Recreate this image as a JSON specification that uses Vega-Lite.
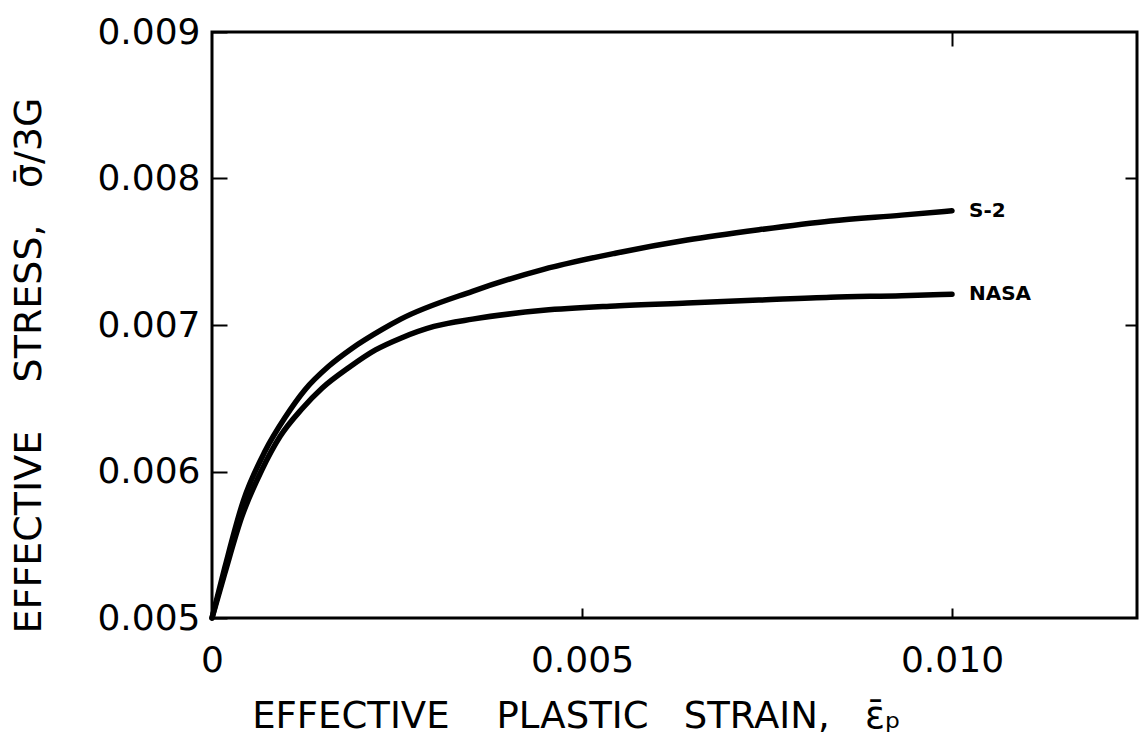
{
  "$schema": "https://vega.github.io/schema/vega-lite/v6.json",
  "width": 925,
  "height": 586,
  "autosize": {"type": "none"},
  "padding": {"left": 212, "top": 32, "right": 7, "bottom": 138},
  "background": "white",
  "config": {
    "view": {"stroke": "#000", "strokeWidth": 3},
    "font": "DejaVu Sans",
    "axis": {"grid": false, "domain": false, "tickColor": "#000", "tickWidth": 2, "labelColor": "#000", "titleColor": "#000", "labelFont": "DejaVu Sans", "titleFont": "DejaVu Sans", "titleFontWeight": "normal", "labelFlush": false, "labelOverlap": false}
  },
  "datasets": {
    "curves": [
      {"curve": "S-2", "strain": 0.0, "stress": 0.005},
      {"curve": "S-2", "strain": 0.000176, "stress": 0.00535},
      {"curve": "S-2", "strain": 0.000424, "stress": 0.0058},
      {"curve": "S-2", "strain": 0.000718, "stress": 0.00614},
      {"curve": "S-2", "strain": 0.000989, "stress": 0.00637},
      {"curve": "S-2", "strain": 0.00126, "stress": 0.00656},
      {"curve": "S-2", "strain": 0.00158, "stress": 0.00672},
      {"curve": "S-2", "strain": 0.00189, "stress": 0.00684},
      {"curve": "S-2", "strain": 0.0023, "stress": 0.00697},
      {"curve": "S-2", "strain": 0.00255, "stress": 0.00704},
      {"curve": "S-2", "strain": 0.00352, "stress": 0.00723},
      {"curve": "S-2", "strain": 0.00448, "stress": 0.00738},
      {"curve": "S-2", "strain": 0.00545, "stress": 0.00749},
      {"curve": "S-2", "strain": 0.00642, "stress": 0.00758},
      {"curve": "S-2", "strain": 0.00739, "stress": 0.00765},
      {"curve": "S-2", "strain": 0.00836, "stress": 0.00771},
      {"curve": "S-2", "strain": 0.00932, "stress": 0.00775},
      {"curve": "S-2", "strain": 0.01, "stress": 0.00778},
      {"curve": "NASA", "strain": 0.0, "stress": 0.005},
      {"curve": "NASA", "strain": 0.00017, "stress": 0.0053},
      {"curve": "NASA", "strain": 0.000402, "stress": 0.00569},
      {"curve": "NASA", "strain": 0.000673, "stress": 0.00601},
      {"curve": "NASA", "strain": 0.000921, "stress": 0.00624},
      {"curve": "NASA", "strain": 0.00122, "stress": 0.00643},
      {"curve": "NASA", "strain": 0.00149, "stress": 0.00657},
      {"curve": "NASA", "strain": 0.00185, "stress": 0.00671},
      {"curve": "NASA", "strain": 0.00221, "stress": 0.00683},
      {"curve": "NASA", "strain": 0.00255, "stress": 0.00691},
      {"curve": "NASA", "strain": 0.003, "stress": 0.00699},
      {"curve": "NASA", "strain": 0.00352, "stress": 0.00704},
      {"curve": "NASA", "strain": 0.00448, "stress": 0.0071},
      {"curve": "NASA", "strain": 0.00545, "stress": 0.00713},
      {"curve": "NASA", "strain": 0.00642, "stress": 0.00715},
      {"curve": "NASA", "strain": 0.00739, "stress": 0.00717},
      {"curve": "NASA", "strain": 0.00836, "stress": 0.00719},
      {"curve": "NASA", "strain": 0.00932, "stress": 0.0072},
      {"curve": "NASA", "strain": 0.01, "stress": 0.00721}
    ],
    "labels": [
      {"label": "S-2", "strain": 0.01, "stress": 0.00778},
      {"label": "NASA", "strain": 0.01, "stress": 0.00721}
    ]
  },
  "layer": [
    {
      "data": {"name": "curves"},
      "mark": {"type": "line", "color": "#000", "strokeWidth": 5.5, "strokeCap": "round", "strokeJoin": "round", "interpolate": "monotone"},
      "encoding": {
        "x": {
          "field": "strain", "type": "quantitative",
          "scale": {"domain": [0, 0.0125], "nice": false, "zero": false},
          "axis": {
            "orient": "bottom", "values": [0, 0.005, 0.01],
            "labelExpr": "datum.value == 0 ? '0' : format(datum.value, '.3f')",
            "offset": -10, "tickSize": 10, "labelPadding": 25, "labelFontSize": 36,
            "title": "EFFECTIVE\u00a0\u00a0\u00a0\u00a0PLASTIC\u00a0\u00a0\u00a0STRAIN,\u00a0\u00a0\u00a0\u03b5\u0304\u209a",
            "titleFontSize": 37, "titleX": 364, "titleY": 108,
            "titleAlign": "center", "titleBaseline": "middle"
          }
        },
        "y": {
          "field": "stress", "type": "quantitative",
          "scale": {"domain": [0.005, 0.009], "nice": false, "zero": false},
          "axis": {
            "orient": "left", "values": [0.005, 0.006, 0.007, 0.008, 0.009],
            "format": ".3f", "offset": -15, "tickSize": 15, "labelPadding": 12, "labelFontSize": 36,
            "title": "EFFECTIVE\u00a0\u00a0\u00a0\u00a0STRESS,\u00a0\u00a0\u00a0\u03c3\u0304/3G",
            "titleFontSize": 38, "titleX": -198, "titleY": 333,
            "titleAlign": "center", "titleBaseline": "middle", "titleAngle": -90
          }
        },
        "detail": {"field": "curve", "type": "nominal"}
      }
    },
    {
      "data": {"name": "labels"},
      "mark": {"type": "text", "align": "left", "baseline": "middle", "dx": 17, "fontSize": 20, "fontWeight": "bold", "color": "#000"},
      "encoding": {
        "x": {
          "field": "strain", "type": "quantitative",
          "axis": {"orient": "top", "values": [0.01], "labels": false, "title": null, "offset": -14, "tickSize": 14}
        },
        "y": {
          "field": "stress", "type": "quantitative",
          "axis": {"orient": "right", "values": [0.007, 0.008], "labels": false, "title": null, "offset": -12, "tickSize": 12}
        },
        "text": {"field": "label"}
      }
    }
  ],
  "resolve": {"axis": {"x": "independent", "y": "independent"}}
}
